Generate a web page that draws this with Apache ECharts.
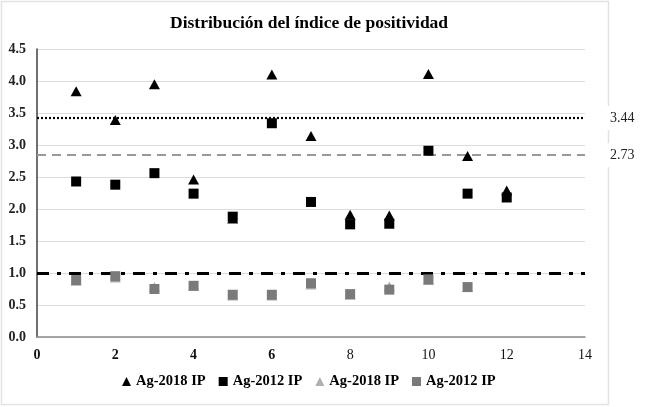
<!DOCTYPE html>
<html>
<head>
<meta charset="utf-8">
<script src="https://cdn.jsdelivr.net/npm/echarts@6/dist/echarts.min.js"></script>
<style>
html,body{margin:0;padding:0;background:#fff;}
#chart{width:652px;height:407px;}
</style>
</head>
<body>
<div id="chart"></div>
<script>
const FONT = "'Liberation Serif','Times New Roman',serif";
const titleText = 'Distribución del índice de positividad';
const xTicks = [0, 2, 4, 6, 8, 10, 12, 14];
const yTicks = [0.0, 0.5, 1.0, 1.5, 2.0, 2.5, 3.0, 3.5, 4.0, 4.5];
const seriesNames = ['Ag-2018 IP', 'Ag-2012 IP', 'Ag-2018 IP', 'Ag-2012 IP'];
const xBlack = [1, 2, 3, 4, 5, 6, 7, 8, 9, 10, 11, 12];
const ag2018Black = [3.84, 3.39, 3.95, 2.46, 1.85, 4.10, 3.14, 1.91, 1.90, 4.11, 2.83, 2.29];
const ag2012Black = [2.43, 2.38, 2.56, 2.24, 1.88, 3.34, 2.11, 1.76, 1.77, 2.91, 2.24, 2.18];
const xGray = [1, 2, 3, 4, 5, 6, 7, 8, 9, 10, 11];
const ag2018Gray = [0.88, 0.93, 0.78, 0.80, 0.65, 0.65, 0.82, 0.66, 0.79, 0.89, 0.78];
const ag2012Gray = [0.89, 0.95, 0.75, 0.80, 0.66, 0.66, 0.84, 0.67, 0.74, 0.90, 0.78];
const refLineValues = [3.42, 2.84, 1.0];
const refLineLabels = ['3.44', '2.73', ''];

const pair = (xs, ys) => xs.map((x, i) => [x, ys[i]]);

const chart = echarts.init(document.getElementById('chart'), null, {renderer: 'canvas'});
chart.setOption({
  backgroundColor: '#fff',
  animation: false,
  textStyle: {fontFamily: FONT},
  graphic: [{
    type: 'rect', z: -10, silent: true,
    shape: {x: 1.5, y: 1.5, width: 607, height: 403},
    style: {fill: 'none', stroke: '#e2e2e2', lineWidth: 1.5}
  }],
  title: {
    text: titleText, left: 165, top: 9,
    textStyle: {fontFamily: FONT, fontSize: 17.5, fontWeight: 'bold', color: '#000'}
  },
  legend: {
    bottom: 13, left: 117, itemWidth: 9, itemHeight: 9, itemGap: 13,
    textStyle: {fontFamily: FONT, fontSize: 14.5, fontWeight: 'bold', color: '#000'},
    data: [
      {name: 'a', icon: 'triangle'}, {name: 'b', icon: 'rect'},
      {name: 'c', icon: 'triangle'}, {name: 'd', icon: 'rect'}
    ],
    formatter: function (n) { return seriesNames[{a:0,b:1,c:2,d:3}[n]]; }
  },
  grid: {left: 37, right: 67, top: 49, bottom: 70, containLabel: false},
  xAxis: {
    type: 'value', min: 0, max: 14, interval: 2,
    axisLine: {show: true, onZero: false, lineStyle: {color: '#8c8c8c', width: 1.5}},
    axisTick: {show: false},
    splitLine: {show: false},
    axisLabel: {
      margin: 11, fontFamily: FONT, fontSize: 14, color: '#111',
      formatter: function (v) { return xTicks.indexOf(v) >= 0 ? (v <= 6 ? '{b|' + v + '}' : '{n|' + v + '}') : ''; },
      rich: {b: {fontFamily: FONT, fontSize: 14, fontWeight: 'bold', color: '#111'}, n: {fontFamily: FONT, fontSize: 14, color: '#111'}}
    }
  },
  yAxis: {
    type: 'value', min: 0, max: 4.5, interval: 0.5,
    axisLine: {show: true, lineStyle: {color: '#404040', width: 1.5}},
    axisTick: {show: false},
    splitLine: {show: true, lineStyle: {color: '#dcdcdc', width: 1.2}},
    axisLabel: {
      margin: 11, fontFamily: FONT, fontSize: 14, fontWeight: 'bold', color: '#222',
      formatter: function (v) { return yTicks.indexOf(Math.round(v * 10) / 10) >= 0 ? v.toFixed(1) : ''; }
    }
  },
  series: [
    {
      name: 'c', type: 'scatter', symbol: 'triangle', symbolSize: [11, 10], z: 1,
      itemStyle: {color: '#b0b0b0', opacity: 1}, data: pair(xGray, ag2018Gray),
      markLine: {
        silent: true, symbol: 'none', z: 1,
        data: refLineValues.map((v, i) => ({
          yAxis: v,
          lineStyle: [
            {color: '#000', width: 2.2, type: [2, 2], cap: 'butt', opacity: 1},
            {color: '#999', width: 2, type: [9, 6], cap: 'butt', opacity: 1},
            {color: '#000', width: 3, type: [12, 8, 4, 8], cap: 'butt', opacity: 1}
          ][i],
          label: {
            show: refLineLabels[i] !== '', position: 'end', distance: 22,
            formatter: refLineLabels[i] || ' ',
            fontFamily: FONT, fontSize: 14, color: '#222',
            backgroundColor: '#fff', padding: [5, 3, 5, 3]
          }
        }))
      }
    },
    {
      name: 'd', type: 'scatter', symbol: 'rect', symbolSize: 10, z: 2,
      itemStyle: {color: '#7a7a7a', opacity: 1}, data: pair(xGray, ag2012Gray)
    },
    {
      name: 'a', type: 'scatter', symbol: 'triangle', symbolSize: [11, 10], z: 3,
      itemStyle: {color: '#000', opacity: 1}, data: pair(xBlack, ag2018Black)
    },
    {
      name: 'b', type: 'scatter', symbol: 'rect', symbolSize: 10, z: 4,
      itemStyle: {color: '#000', opacity: 1}, data: pair(xBlack, ag2012Black)
    }
  ]
});
</script>
</body>
</html>
